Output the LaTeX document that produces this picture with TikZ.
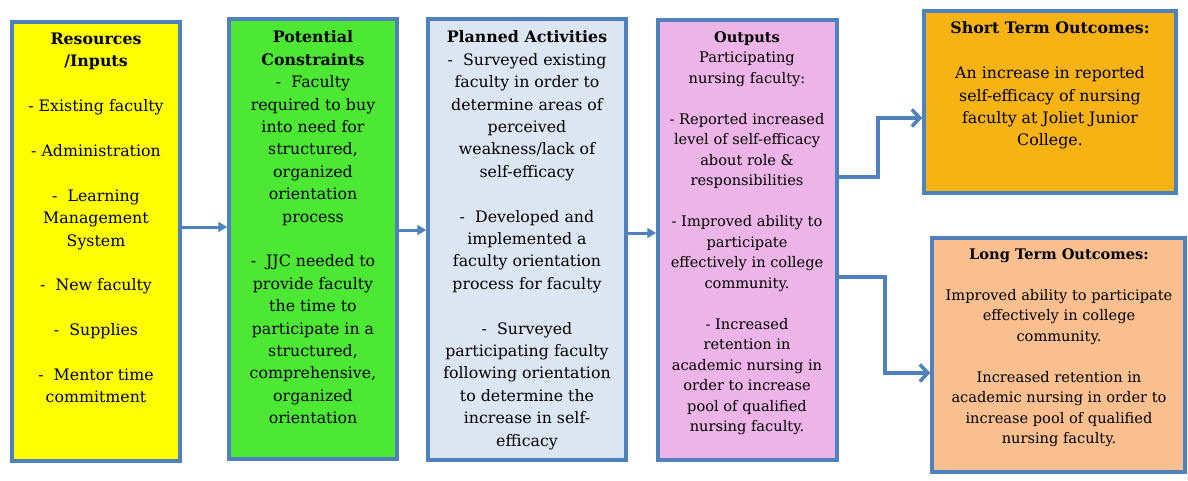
\documentclass[tikz,border=0pt]{standalone}
\usepackage{fontspec}
\setmainfont{DejaVu Serif}
\usetikzlibrary{arrows.meta,shadows}
\definecolor{bordc}{HTML}{4F81BD}
\definecolor{cyellow}{HTML}{FFFF00}
\definecolor{cgreen}{HTML}{4CE833}
\definecolor{cblue}{HTML}{DCE6F2}
\definecolor{cpink}{HTML}{ECB4E7}
\definecolor{corange}{HTML}{F7B314}
\definecolor{cpeach}{HTML}{F9BF8F}
\begin{document}
\begin{tikzpicture}[x=1pt,y=-1pt,
  box/.style={draw=bordc, line width=3.5pt, rectangle, inner sep=0pt,
    drop shadow={opacity=0.3, shadow xshift=2pt, shadow yshift=-2pt}},
  big/.style={font=\fontsize{15.8}{22.4}\selectfont, align=center, inner sep=0pt, anchor=north},
  small/.style={font=\fontsize{14.6}{20.5}\selectfont, align=center, inner sep=0pt, anchor=north},
  flow/.style={draw=bordc, line width=3pt, -{Triangle[length=9pt,width=10pt]}},
  outarr/.style={draw=bordc, line width=3.5pt, -{Straight Barb[length=8pt,width=17pt]}}]
\useasboundingbox (0,0) rectangle (1188,481);

\node[box, fill=cyellow, minimum width=168pt, minimum height=439pt] (b1) at (96,241.5) {};
\node[box, fill=cgreen, minimum width=168pt, minimum height=440pt] (b2) at (313,239) {};
\node[box, fill=cblue, minimum width=198pt, minimum height=441pt] (b3) at (527,239.5) {};
\node[box, fill=cpink, minimum width=179pt, minimum height=440pt] (b4) at (747.5,240) {};
\node[box, fill=corange, minimum width=252pt, minimum height=182pt] (b5) at (1050,102) {};
\node[box, fill=cpeach, minimum width=253pt, minimum height=234pt] (b6) at (1058.5,355) {};

\node[big] (t1) at (96,32.7) {\textbf{Resources}\\ \textbf{/Inputs}\\ \mbox{}\\ - Existing faculty\\ \mbox{}\\ - Administration\\ \mbox{}\\ -~ Learning\\ Management\\ System\\ \mbox{}\\ -~ New faculty\\ \mbox{}\\ -~ Supplies\\ \mbox{}\\ -~ Mentor time\\ commitment};

\node[big] (t2) at (313,30.7) {\textbf{Potential}\\ \textbf{Constraints}\\ -~ Faculty\\ required to buy\\ into need for\\ structured,\\ organized\\ orientation\\ process\\ \mbox{}\\ -~ JJC needed to\\ provide faculty\\ the time to\\ participate in a\\ structured,\\ comprehensive,\\ organized\\ orientation};

\node[big] (t3) at (527,30.7) {\textbf{Planned Activities}\\ -~ Surveyed existing\\ faculty in order to\\ determine areas of\\ perceived\\ weakness/lack of\\ self-efficacy\\ \mbox{}\\ -~ Developed and\\ implemented a\\ faculty orientation\\ process for faculty\\ \mbox{}\\ -~ Surveyed\\ participating faculty\\ following orientation\\ to determine the\\ increase in self-\\ efficacy};

\node[small] (t4) at (747,31.2) {\textbf{Outputs}\\ Participating\\ nursing faculty:\\ \mbox{}\\ - Reported increased\\ level of self-efficacy\\ about role \&\\ responsibilities\\ \mbox{}\\ - Improved ability to\\ participate\\ effectively in college\\ community.\\ \mbox{}\\ - Increased\\ retention in\\ academic nursing in\\ order to increase\\ pool of qualified\\ nursing faculty.};

\node[big] (t5) at (1050,21.7) {\textbf{Short Term Outcomes:}\\ \mbox{}\\ An increase in reported\\ self-efficacy of nursing\\ faculty at Joliet Junior\\ College.};

\node[small] (t6) at (1059,248.2) {\textbf{Long Term Outcomes:}\\ \mbox{}\\ Improved ability to participate\\ effectively in college\\ community.\\ \mbox{}\\ Increased retention in\\ academic nursing in order to\\ increase pool of qualified\\ nursing faculty.};

\draw[flow] (b1.east |- 0,227) -- (b2.west |- 0,227);
\draw[flow] (b2.east |- 0,230) -- (b3.west |- 0,230);
\draw[flow] (b3.east |- 0,233) -- (b4.west |- 0,233);
\draw[outarr] (b4.east |- 0,177) -- ++(39,0) |- (b5.west |- 0,118);
\draw[outarr] (b4.east |- 0,277) -- ++(46,0) |- (b6.west |- 0,373);
\end{tikzpicture}
\end{document}
